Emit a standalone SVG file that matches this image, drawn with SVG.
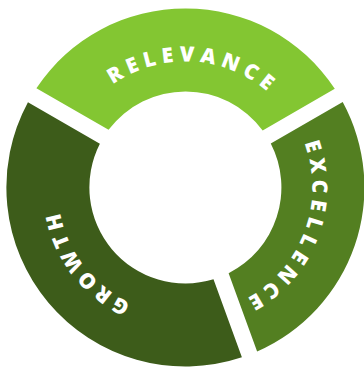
<svg xmlns="http://www.w3.org/2000/svg" xmlns:xlink="http://www.w3.org/1999/xlink" width="364" height="371" viewBox="0 0 364 371">
  <style>
    .label { fill: #ffffff; font-family: "Open Sans", "DejaVu Sans", sans-serif; font-weight: 800; font-size: 21px; letter-spacing: 5.5px; }
    .label.short { letter-spacing: 4.5px; }
    .relevance { fill: #83c632; }
    .excellence { fill: #537f21; }
    .growth { fill: #3d5c1a; }
  </style>
  <defs>
    <!-- baseline arcs, clockwise, centred on each segment -->
    <path id="arc-relevance" d="M 59.52 181.90 A 126 126 0 0 1 311.28 192.90"/>
    <path id="arc-excellence" d="M 228.84 68.06 A 127 127 0 0 1 141.96 306.74"/>
    <path id="arc-growth" d="M 264.56 288.00 A 128 128 0 0 1 106.24 86.80"/>
  </defs>
  <rect width="364" height="371" fill="#ffffff"/>
  <g id="connectors"/>
  <g id="relevance">
    <path class="relevance" d="M 36.40 88.21 A 179 179 0 0 1 334.79 88.79 L 262.67 130.43 A 96 96 0 0 0 108.55 129.87 Z"/>
    <text class="label"><textPath xlink:href="#arc-relevance" href="#arc-relevance" startOffset="200.67" text-anchor="middle">RELEVANCE</textPath></text>
  </g>
  <g id="excellence">
    <path class="excellence" d="M 342.71 102.00 A 179 179 0 0 1 257.12 351.46 L 228.62 273.15 A 96 96 0 0 0 270.78 143.53 Z"/>
    <text class="label"><textPath xlink:href="#arc-excellence" href="#arc-excellence" startOffset="202.24" text-anchor="middle">EXCELLENCE</textPath></text>
  </g>
  <g id="growth">
    <path class="growth" d="M 241.89 357.30 A 179 179 0 0 1 27.95 102.26 L 99.88 143.79 A 96 96 0 0 0 213.49 279.23 Z"/>
    <text class="label short"><textPath xlink:href="#arc-growth" href="#arc-growth" startOffset="203.31" text-anchor="middle">GROWTH</textPath></text>
  </g>
</svg>
